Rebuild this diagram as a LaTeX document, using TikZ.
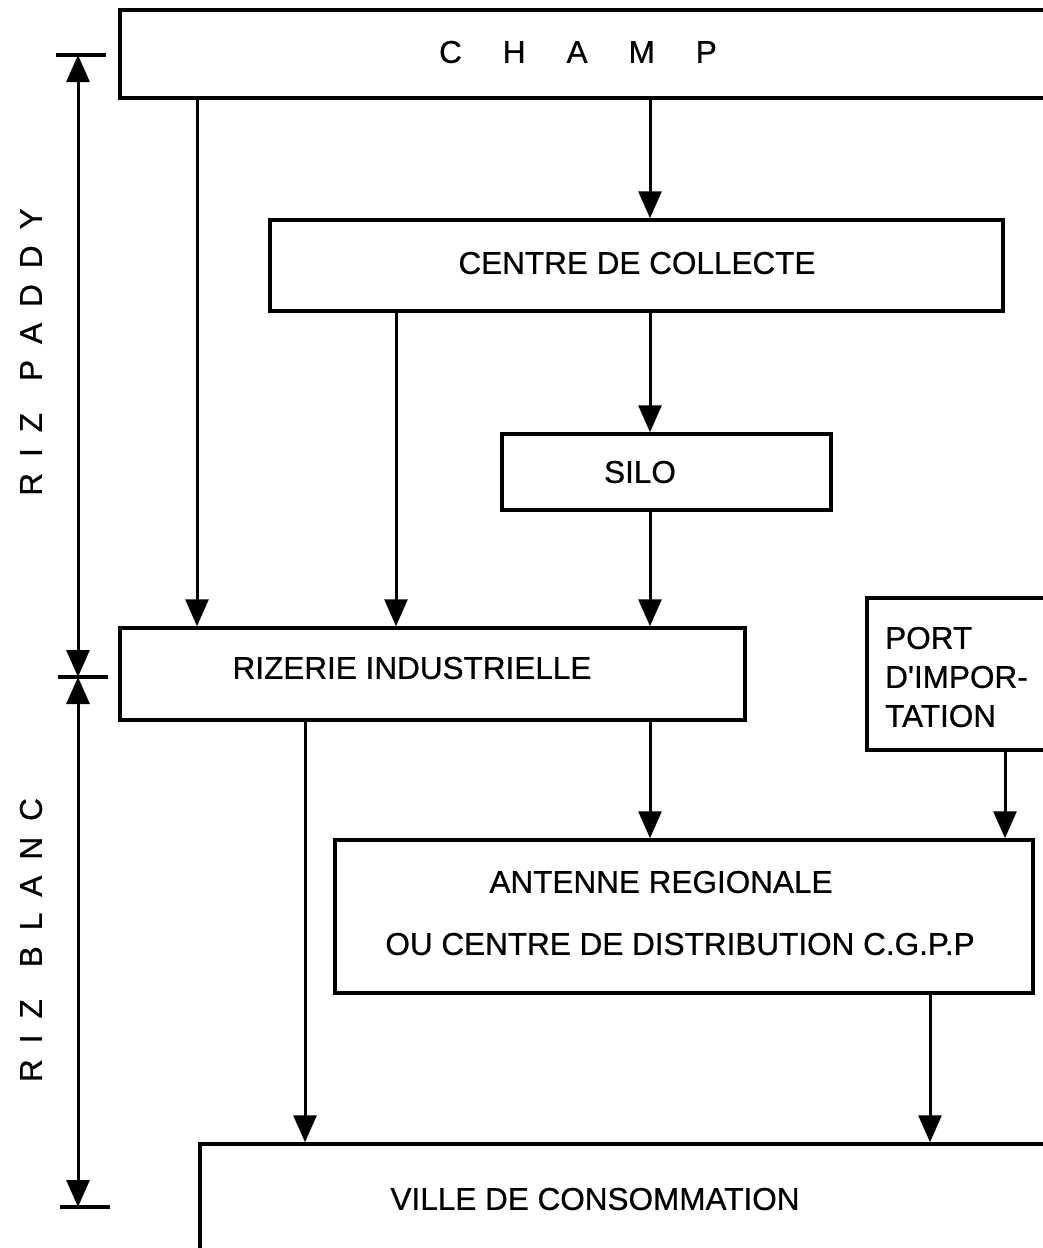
\documentclass[tikz,border=0pt]{standalone}
\usepackage{fontspec}
\setmainfont{Liberation Sans}
\newfontfamily\diagfont[FakeBold=0.7]{Liberation Sans}
\usetikzlibrary{arrows.meta}
\begin{document}
\begin{tikzpicture}[x=1pt,y=-1pt,
  box/.style={draw, line width=3.5pt, inner sep=0pt},
  txt/.style={inner sep=0pt, font=\diagfont\fontsize{31.5}{39}\selectfont},
  arr/.style={line width=3pt, -{Triangle[width=23pt,length=27pt]}},
  dim/.style={line width=3pt, {Triangle[width=23pt,length=27pt]}-{Triangle[width=23pt,length=27pt]}},
  tickline/.style={line width=3.5pt}]
\clip (0,0) rectangle (1043,1248);
% boxes
\node[box, minimum width=980pt, minimum height=88pt] (champ) at (610,54) {};
\node[box, minimum width=733pt, minimum height=91pt] (centre) at (636.5,265.5) {};
\node[box, minimum width=329pt, minimum height=76pt] (silo) at (666.5,472) {};
\node[box, minimum width=625pt, minimum height=92pt] (rizerie) at (432.5,674) {};
\node[box, minimum width=233pt, minimum height=152pt] (port) at (983.5,674) {};
\node[box, minimum width=698pt, minimum height=153pt] (antenne) at (684,916.5) {};
\node[box, minimum width=900pt, minimum height=156pt] (ville) at (650,1222) {};
% texts
\node[txt] (tchamp) at (578,52) {C\hspace{41pt}H\hspace{41pt}A\hspace{41pt}M\hspace{41pt}P};
\node[txt] (tcentre) at (637,263) {CENTRE DE COLLECTE};
\node[txt] (tsilo) at (640,472) {SILO};
\node[txt] (triz) at (412,668) {RIZERIE INDUSTRIELLE};
\node[txt, align=left, anchor=west] (tport) at (885,677) {PORT\\D\textquotesingle IMPOR-\\TATION};
\node[txt] (tant1) at (661,882) {ANTENNE REGIONALE};
\node[txt] (tant2) at (680,944) {OU CENTRE DE DISTRIBUTION C.G.P.P};
\node[txt] (tville) at (595,1199) {VILLE DE CONSOMMATION};
\node[txt, rotate=90] (tpaddy) at (31,352) {R\hspace{16pt}I\hspace{16pt}Z\hspace{32pt}P\hspace{16pt}A\hspace{16pt}D\hspace{16pt}D\hspace{16pt}Y};
\node[txt, rotate=90] (tblanc) at (31,940) {R\hspace{16pt}I\hspace{16pt}Z\hspace{32pt}B\hspace{16pt}L\hspace{16pt}A\hspace{16pt}N\hspace{16pt}C};
% arrow x positions
\coordinate (xa) at (197,0);
\coordinate (xb) at (396,0);
\coordinate (xc) at (650,0);
\coordinate (xd) at (305,0);
\coordinate (xe) at (1005,0);
\coordinate (xf) at (930,0);
\draw[arr] (champ.south -| xa) -- (rizerie.north -| xa);
\draw[arr] (champ.south -| xc) -- (centre.north -| xc);
\draw[arr] (centre.south -| xb) -- (rizerie.north -| xb);
\draw[arr] (centre.south -| xc) -- (silo.north -| xc);
\draw[arr] (silo.south -| xc) -- (rizerie.north -| xc);
\draw[arr] (rizerie.south -| xc) -- (antenne.north -| xc);
\draw[arr] (port.south -| xe) -- (antenne.north -| xe);
\draw[arr] (rizerie.south -| xd) -- (ville.north -| xd);
\draw[arr] (antenne.south -| xf) -- (ville.north -| xf);
% dimension line
\coordinate (dtop) at (78,55);
\coordinate (dmid) at (78,677);
\coordinate (dbot) at (78,1207);
\draw[dim] (dmid) -- (dtop);
\draw[dim] (dmid) -- (dbot);
\draw[tickline] ([xshift=-22pt]dtop) -- ([xshift=28pt]dtop);
\draw[tickline] ([xshift=-20pt]dmid) -- ([xshift=30pt]dmid);
\draw[tickline] ([xshift=-18pt]dbot) -- ([xshift=32pt]dbot);
\end{tikzpicture}
\end{document}
